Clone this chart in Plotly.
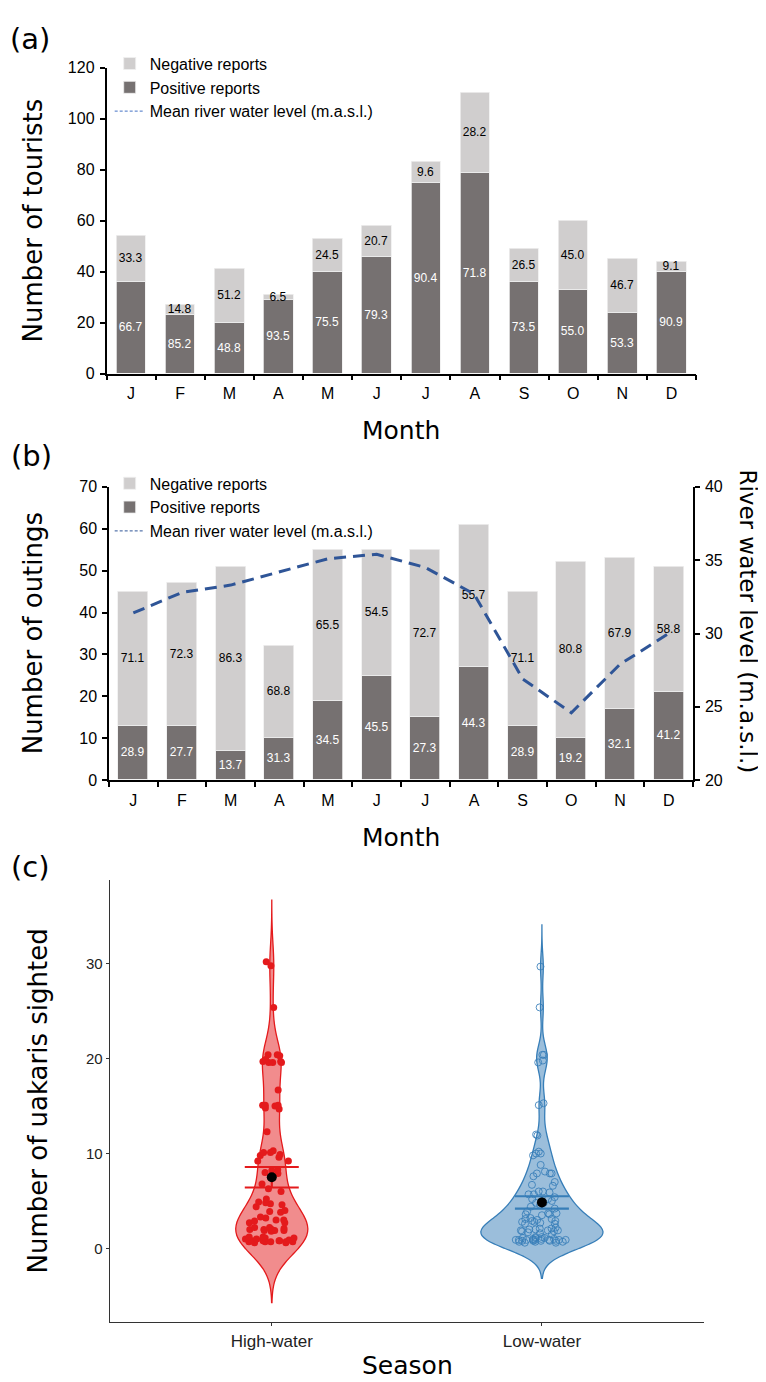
import plotly.graph_objects as go

W, H = 766, 1382

# ---------------- data ----------------
months = ["J", "F", "M", "A", "M", "J", "J", "A", "S", "O", "N", "D"]

# (a) tourists
tour_pos = [36, 23, 20, 29, 40, 46, 75, 79, 36, 33, 24, 40]
tour_neg = [18, 4, 21, 2, 13, 12, 8, 31, 13, 27, 21, 4]
tour_pos_lbl = ["66.7", "85.2", "48.8", "93.5", "75.5", "79.3", "90.4", "71.8", "73.5", "55.0", "53.3", "90.9"]
tour_neg_lbl = ["33.3", "14.8", "51.2", "6.5", "24.5", "20.7", "9.6", "28.2", "26.5", "45.0", "46.7", "9.1"]

# (b) outings
out_pos = [13, 13, 7, 10, 19, 25, 15, 27, 13, 10, 17, 21]
out_neg = [32, 34, 44, 22, 36, 30, 40, 34, 32, 42, 36, 30]
out_pos_lbl = ["28.9", "27.7", "13.7", "31.3", "34.5", "45.5", "27.3", "44.3", "28.9", "19.2", "32.1", "41.2"]
out_neg_lbl = ["71.1", "72.3", "86.3", "68.8", "65.5", "54.5", "72.7", "55.7", "71.1", "80.8", "67.9", "58.8"]
water_level = [31.4, 32.8, 33.3, 34.2, 35.1, 35.4, 34.5, 32.7, 26.9, 24.6, 27.9, 30.0]

# (c) uakaris sighted per outing
seasons = ["High-water", "Low-water"]
high_water = [30.2, 29.8, 25.4,
              20.4, 19.6, 19.7, 20.3, 19.7, 19.9, 19.6, 20.4, 19.6,
              16.7, 15.1, 14.8, 15.1, 15.1, 15.0, 14.7, 12.3,
              10.1, 10.1, 10.3, 9.9, 9.8, 9.6, 9.2, 9.2,
              8.2, 8.3, 8.0, 7.9, 6.8, 6.3, 6.0, 5.2,
              4.8, 4.9, 4.7, 4.6, 4.4, 3.9, 3.8, 4.0, 3.3,
              2.7, 2.9, 3.0, 2.7, 3.2, 3.0,
              2.0, 1.9, 2.0, 1.9, 2.2, 2.2, 1.9, 2.0, 2.1, 1.8,
              0.9, 0.7, 0.7, 1.1, 0.7, 1.2, 0.8, 0.6, 1.2, 0.8, 1.0,
              0.6, 0.7, 0.8, 1.0, 0.9, 1.1, 0.8, 0.7]
low_water = [29.7, 25.4, 20.4, 20.4, 19.8, 19.6, 15.3, 15.1, 11.9, 12.0,
             9.8, 10.0, 10.2, 10.0, 8.8, 7.6, 8.1, 7.9, 7.9, 7.9, 7.0,
             6.7, 6.6, 6.0, 6.0, 5.7, 5.9, 5.7, 5.2, 5.4, 4.8, 5.2, 4.8,
             3.6, 3.9, 3.7, 3.6, 4.2, 3.5, 3.7, 4.6, 4.4, 5.0,
             2.7, 2.6, 3.1, 2.8, 2.6, 2.9, 3.1, 3.0, 2.8, 3.2, 2.9,
             2.1, 1.9, 1.6, 1.9, 2.2, 2.0, 1.8, 2.0, 1.9, 1.5, 1.7, 2.1, 1.8,
             0.9, 0.9, 0.8, 0.9, 0.9, 0.7, 0.8, 0.9, 1.0, 0.9, 0.8, 0.9, 0.9, 1.0,
             0.7, 0.6, 0.6, 0.7, 1.1, 1.2, 1.1, 0.8, 1.2, 1.0, 0.8, 1.1]
season_mean = [7.5, 4.85]
season_se = [1.08, 0.65]
violin_bw = [2.15, 1.35]
violin_span = [[-5.7, 36.7], [-3.15, 34.1]]

# ---------------- styling ----------------
LIGHT = "#D0CECE"
DARK = "#767171"
BLUE = "#2F5597"
TXT = "Liberation Sans, Arial, sans-serif"
TTL = "DejaVu Sans, Verdana, sans-serif"


def px_x(p):
    return p / W


def px_y(p):
    return 1 - p / H


fig = go.Figure()

idx = list(range(len(months)))

# ---- panel (a)
fig.add_trace(go.Bar(x=idx, y=tour_pos, xaxis="x", yaxis="y", name="Positive reports",
                     marker=dict(color=DARK, line=dict(color="#EFEFEF", width=0.8)), width=0.6,
                     text=tour_pos_lbl, textposition="inside", insidetextanchor="middle",
                     textangle=0, constraintext="none",
                     textfont=dict(family=TXT, size=12, color="white"),
                     legend="legend", legendgroup="pa", legendrank=2))
fig.add_trace(go.Bar(x=idx, y=tour_neg, xaxis="x", yaxis="y", name="Negative reports",
                     marker=dict(color=LIGHT, line=dict(color="#EFEFEF", width=0.8)), width=0.6,
                     text=tour_neg_lbl, textposition="inside", insidetextanchor="middle",
                     textangle=0, constraintext="none",
                     textfont=dict(family=TXT, size=12, color="black"),
                     legend="legend", legendgroup="na", legendrank=1))
fig.add_trace(go.Scatter(x=[None], y=[None], xaxis="x", yaxis="y", mode="lines",
                         name="Mean river water level (m.a.s.l.)",
                         line=dict(color="#4472C4", width=1, dash="3px,2px"),
                         legend="legend", legendgroup="la", legendrank=3))

# ---- panel (b)
fig.add_trace(go.Bar(x=idx, y=out_pos, xaxis="x2", yaxis="y2", name="Positive reports",
                     marker=dict(color=DARK, line=dict(color="#EFEFEF", width=0.8)), width=0.62,
                     text=out_pos_lbl, textposition="inside", insidetextanchor="middle",
                     textangle=0, constraintext="none",
                     textfont=dict(family=TXT, size=12, color="white"),
                     legend="legend2", legendgroup="pb", legendrank=2))
fig.add_trace(go.Bar(x=idx, y=out_neg, xaxis="x2", yaxis="y2", name="Negative reports",
                     marker=dict(color=LIGHT, line=dict(color="#EFEFEF", width=0.8)), width=0.62,
                     text=out_neg_lbl, textposition="inside", insidetextanchor="middle",
                     textangle=0, constraintext="none",
                     textfont=dict(family=TXT, size=12, color="black"),
                     legend="legend2", legendgroup="nb", legendrank=1))
fig.add_trace(go.Scatter(x=idx, y=water_level, xaxis="x2", yaxis="y3", mode="lines",
                         line=dict(color=BLUE, width=3, dash="12px,7px"), showlegend=False))
fig.add_trace(go.Scatter(x=[None], y=[None], xaxis="x2", yaxis="y3", mode="lines",
                         name="Mean river water level (m.a.s.l.)",
                         line=dict(color=BLUE, width=1, dash="3px,2px"),
                         legend="legend2", legendgroup="lb", legendrank=3))

# ---- panel (c)
vio_fill = ["rgba(228,26,28,0.5)", "rgba(55,126,184,0.5)"]
vio_line = ["#E41A1C", "#377EB8"]
vio_width = [0.267, 0.452]
vio_jitter = [0.75, 0.44]
markers = [dict(color="#E41A1C", size=7, symbol="circle", line=dict(width=0)),
           dict(color="rgba(55,126,184,0.85)", size=7, symbol="circle-open", line=dict(width=1))]
for i, vals in enumerate([high_water, low_water]):
    fig.add_trace(go.Violin(x0=i, y=vals, xaxis="x3", yaxis="y4", name=seasons[i],
                            bandwidth=violin_bw[i], spanmode="manual", span=violin_span[i],
                            width=vio_width[i], scalegroup=seasons[i], scalemode="width",
                            fillcolor=vio_fill[i], line=dict(color=vio_line[i], width=1.3),
                            points="all", pointpos=0, jitter=vio_jitter[i], marker=markers[i],
                            box=dict(visible=False), meanline=dict(visible=False),
                            showlegend=False, hoveron="points"))
for i in range(2):
    fig.add_trace(go.Scatter(x=[i], y=[season_mean[i]], xaxis="x3", yaxis="y4", mode="markers",
                             marker=dict(color="black", size=10),
                             error_y=dict(type="data", array=[season_se[i]], color=vio_line[i],
                                          thickness=2.2, width=27),
                             showlegend=False))

# ---------------- layout ----------------
axis_common = dict(showline=True, linecolor="black", linewidth=1.5, showgrid=False, zeroline=False,
                   tickfont=dict(family=TXT, size=16, color="black"))

xa = dict(axis_common, range=[-0.5, 11.5], tickvals=idx, ticktext=months, ticks="outside",
          ticklen=5, tickcolor="rgba(0,0,0,0)", ticklabelstandoff=0,
          minor=dict(tickvals=[i - 0.5 for i in range(len(months) + 1)], ticks="outside",
                     ticklen=5, tickcolor="black", tickwidth=1.5))

fig.update_layout(
    width=W, height=H, margin=dict(l=0, r=0, t=0, b=0),
    paper_bgcolor="white", plot_bgcolor="white",
    barmode="stack", violinmode="overlay", bargap=0,
    xaxis=dict(xa, domain=[px_x(98.5), px_x(688)], anchor="y"),
    yaxis=dict(axis_common, domain=[px_y(362), px_y(52.3)], range=[0, 120], dtick=20,
               ticks="outside", ticklen=5, tickwidth=1.5, tickcolor="black", anchor="x",
               ticklabelstandoff=2),
    xaxis2=dict(xa, domain=[px_x(101), px_x(685)], anchor="y2"),
    yaxis2=dict(axis_common, domain=[px_y(773.7), px_y(476.7)], range=[0, 70], dtick=10,
                ticks="outside", ticklen=5, tickwidth=1.5, tickcolor="black", anchor="x2",
                ticklabelstandoff=2),
    yaxis3=dict(axis_common, overlaying="y2", side="right", anchor="x2", range=[20, 40], dtick=5,
                ticks="outside", ticklen=5, tickwidth=1.5, tickcolor="black",
                ticklabelstandoff=2),
    xaxis3=dict(showline=True, linecolor="#333333", linewidth=1, showgrid=False, zeroline=False,
                domain=[px_x(101.7), px_x(696)], anchor="y4", range=[-0.6, 1.6],
                tickvals=[0, 1], ticktext=seasons, ticks="outside", ticklen=3,
                tickcolor="#333333", tickfont=dict(family=TXT, size=17, color="#222222")),
    yaxis4=dict(showline=True, linecolor="#333333", linewidth=1, showgrid=False, zeroline=False,
                domain=[px_y(1322.7), px_y(875)], anchor="x3", range=[-7.8, 38.8],
                tickvals=[0, 10, 20, 30], ticks="outside", ticklen=3, tickcolor="#333333",
                tickfont=dict(family=TXT, size=15, color="#222222")),
    legend=dict(x=px_x(101.7), y=px_y(31), xanchor="left", yanchor="top",
                bgcolor="rgba(0,0,0,0)", traceorder="grouped", tracegroupgap=0,
                font=dict(family=TXT, size=16, color="black")),
    legend2=dict(x=px_x(101.7), y=px_y(456), xanchor="left", yanchor="top",
                 bgcolor="rgba(0,0,0,0)", traceorder="grouped", tracegroupgap=0,
                 font=dict(family=TXT, size=16, color="black")),
    showlegend=True,
)

annots = [
    ("(a)", 22, 23, 0, 29), ("(b)", 24, 445, 0, 29), ("(c)", 22, 862, 0, 29),
    ("Number of tourists", 25, 207, -90, 26), ("Month", 393, 420, 0, 25),
    ("Number of outings", 25, 625, -90, 26), ("Month", 393, 832, 0, 25),
    ("River water level (m.a.s.l.)", 740, 613, 90, 23),
    ("Number of uakaris sighted", 30, 1099, -90, 26), ("Season", 399, 1366, 0, 25),
]
for text, x, y, ang, size in annots:
    fig.add_annotation(text=text, x=px_x(x), y=px_y(y), xref="paper", yref="paper",
                       xanchor="center", yanchor="middle", showarrow=False, textangle=ang,
                       font=dict(family=TTL, size=size, color="black"))

fig.write_html("out.html")
